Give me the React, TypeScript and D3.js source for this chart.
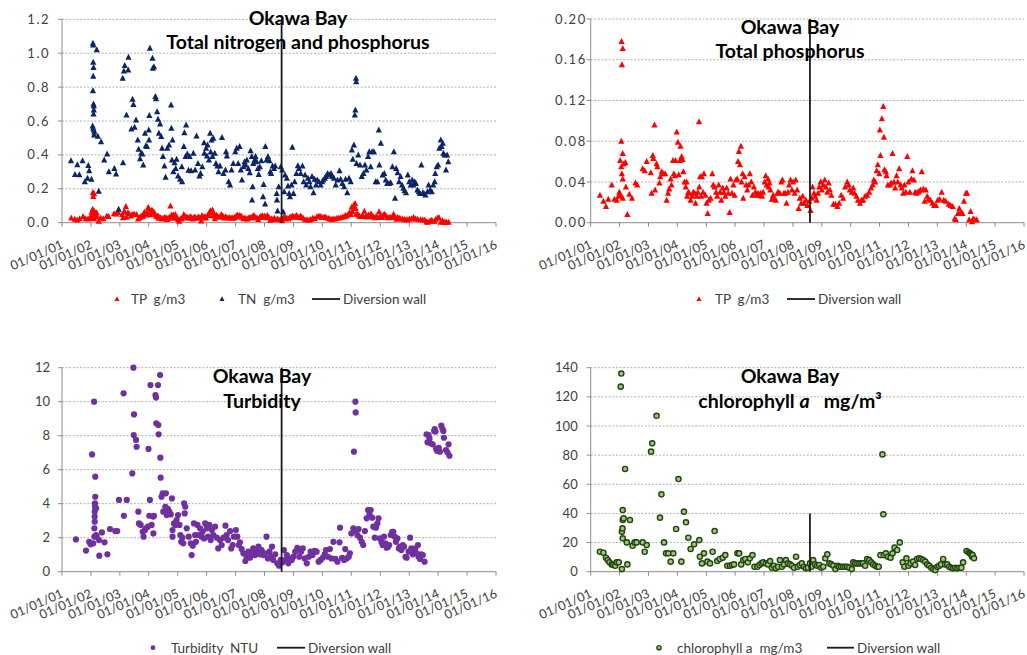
import React from "react";
import * as d3 from "d3";

// sampling dates are kept as decimal years
const tnData: [number, number][] = [
  [2001.31,0.366],[2001.45,0.285],[2001.53,0.342],[2001.6,0.283],[2001.71,0.366],[2001.79,0.242],[2001.88,0.262],[2001.91,0.338],
  [2001.94,0.307],[2002.02,0.256],[2002.07,1.058],[2002.08,1.049],[2002.08,0.946],[2002.09,0.915],[2002.08,0.864],[2002.07,0.779],
  [2002.09,0.7],[2002.1,0.689],[2002.1,0.665],[2002.09,0.641],[2002.06,0.571],[2002.08,0.557],[2002.1,0.547],[2002.12,0.535],
  [2002.11,0.517],[2002.2,1.02],[2002.24,0.51],[2002.27,0.185],[2002.35,0.478],[2002.46,0.37],[2002.56,0.405],[2002.62,0.3],
  [2002.81,0.32],[2002.87,0.287],[2002.96,0.079],[2003.11,0.354],[2003.1,0.852],[2003.14,0.895],[2003.17,0.927],[2003.23,0.635],
  [2003.29,0.901],[2003.3,0.976],[2003.4,0.553],[2003.44,0.728],[2003.47,0.698],[2003.51,0.563],[2003.56,0.606],[2003.62,0.488],
  [2003.65,0.433],[2003.7,0.378],[2003.74,0.409],[2003.78,0.405],[2003.81,0.34],[2003.87,0.527],[2003.9,0.454],[2003.94,0.449],
  [2004.0,0.547],[2004.01,0.488],[2004.02,0.632],[2004.04,1.029],[2004.13,0.97],[2004.14,0.911],[2004.18,0.92],[2004.23,0.744],
  [2004.25,0.732],[2004.29,0.655],[2004.32,0.61],[2004.35,0.527],[2004.39,0.582],[2004.43,0.508],[2004.46,0.439],[2004.49,0.39],
  [2004.54,0.334],[2004.58,0.268],[2004.64,0.439],[2004.7,0.458],[2004.77,0.694],[2004.78,0.557],[2004.82,0.488],[2004.8,0.37],
  [2004.85,0.3],[2004.89,0.354],[2004.93,0.32],[2004.96,0.374],[2005.01,0.275],[2005.08,0.256],[2005.15,0.242],[2005.14,0.33],
  [2005.21,0.449],[2005.23,0.531],[2005.29,0.576],[2005.27,0.39],[2005.33,0.405],[2005.37,0.31],[2005.41,0.39],[2005.46,0.307],
  [2005.54,0.409],[2005.6,0.311],[2005.65,0.511],[2005.7,0.35],[2005.75,0.275],[2005.79,0.291],[2005.85,0.33],[2005.91,0.472],
  [2005.92,0.409],[2005.98,0.439],[2006.01,0.393],[2006.03,0.458],[2006.08,0.37],[2006.12,0.527],[2006.14,0.417],[2006.17,0.488],
  [2006.2,0.39],[2006.23,0.498],[2006.28,0.409],[2006.32,0.35],[2006.37,0.334],[2006.41,0.3],[2006.46,0.334],[2006.53,0.503],
  [2006.58,0.291],[2006.65,0.311],[2006.67,0.419],[2006.7,0.393],[2006.76,0.242],[2006.81,0.222],[2006.86,0.311],[2006.92,0.35],
  [2006.99,0.419],[2007.04,0.439],[2007.09,0.35],[2007.14,0.449],[2007.18,0.311],[2007.22,0.252],[2007.27,0.33],[2007.31,0.36],
  [2007.35,0.34],[2007.39,0.37],[2007.44,0.32],[2007.49,0.295],[2007.52,0.425],[2007.56,0.39],[2007.59,0.212],[2007.61,0.35],
  [2007.57,0.134],[2007.66,0.37],[2007.69,0.39],[2007.73,0.36],[2007.77,0.32],[2007.8,0.285],[2007.84,0.33],[2007.89,0.366],
  [2007.95,0.153],[2007.97,0.226],[2008.02,0.11],[2008.03,0.449],[2008.07,0.37],[2008.12,0.39],[2008.17,0.366],[2008.2,0.3],
  [2008.23,0.291],[2008.28,0.334],[2008.33,0.32],[2008.37,0.334],[2008.42,0.173],[2008.43,0.134],[2008.45,0.069],[2008.49,0.212],
  [2008.56,0.33],[2008.61,0.311],[2008.64,0.065],[2008.68,0.183],[2008.71,0.281],[2008.77,0.262],[2008.81,0.216],[2008.85,0.173],
  [2008.88,0.153],[2008.93,0.222],[2008.96,0.445],[2009.0,0.173],[2009.04,0.242],[2009.1,0.291],[2009.15,0.336],[2009.19,0.32],
  [2009.25,0.291],[2009.31,0.334],[2009.35,0.242],[2009.4,0.281],[2009.44,0.222],[2009.5,0.262],[2009.55,0.242],[2009.59,0.212],
  [2009.64,0.272],[2009.69,0.177],[2009.73,0.256],[2009.78,0.222],[2009.82,0.252],[2009.88,0.242],[2009.94,0.222],[2009.99,0.242],
  [2010.03,0.252],[2010.08,0.262],[2010.12,0.272],[2010.18,0.291],[2010.24,0.281],[2010.3,0.291],[2010.34,0.272],[2010.4,0.262],
  [2010.46,0.222],[2010.52,0.252],[2010.59,0.307],[2010.63,0.256],[2010.69,0.232],[2010.75,0.212],[2010.8,0.256],[2010.86,0.177],
  [2010.92,0.262],[2010.98,0.242],[2011.02,0.429],[2011.05,0.374],[2011.09,0.458],[2011.12,0.635],[2011.14,0.665],[2011.16,0.852],
  [2011.17,0.832],[2011.18,0.35],[2011.24,0.4],[2011.3,0.34],[2011.36,0.272],[2011.42,0.291],[2011.47,0.34],[2011.52,0.311],
  [2011.58,0.39],[2011.62,0.419],[2011.67,0.33],[2011.72,0.419],[2011.78,0.419],[2011.84,0.242],[2011.9,0.242],[2011.95,0.547],
  [2011.97,0.34],[2012.02,0.468],[2012.08,0.281],[2012.14,0.291],[2012.19,0.252],[2012.24,0.232],[2012.3,0.232],[2012.36,0.236],
  [2012.42,0.33],[2012.47,0.419],[2012.51,0.144],[2012.55,0.32],[2012.6,0.295],[2012.65,0.242],[2012.7,0.272],[2012.75,0.222],
  [2012.8,0.203],[2012.84,0.189],[2012.89,0.177],[2012.95,0.281],[2013.0,0.242],[2013.05,0.222],[2013.1,0.252],[2013.14,0.222],
  [2013.19,0.242],[2013.23,0.232],[2013.28,0.193],[2013.33,0.183],[2013.37,0.173],[2013.42,0.34],[2013.47,0.177],[2013.51,0.173],
  [2013.56,0.163],[2013.63,0.183],[2013.67,0.222],[2013.72,0.193],[2013.78,0.183],[2013.83,0.222],[2013.88,0.242],[2013.9,0.291],
  [2013.95,0.33],[2014.0,0.34],[2014.04,0.439],[2014.09,0.488],[2014.12,0.449],[2014.16,0.468],[2014.18,0.409],[2014.22,0.4],
  [2014.27,0.311],[2014.31,0.4],[2014.35,0.36],
];

const tpData: [number, number][] = [
  [2001.32,0.027],[2001.44,0.021],[2001.53,0.016],[2001.61,0.023],[2001.73,0.037],[2001.82,0.023],[2001.9,0.022],[2001.96,0.026],
  [2001.99,0.03],[2002.02,0.061],[2002.04,0.027],[2002.07,0.178],[2002.11,0.171],[2002.08,0.155],[2002.06,0.08],[2002.11,0.068],
  [2002.06,0.055],[2002.08,0.048],[2002.11,0.043],[2002.11,0.024],[2002.15,0.058],[2002.2,0.059],[2002.22,0.035],[2002.27,0.008],
  [2002.34,0.028],[2002.43,0.024],[2002.55,0.039],[2002.61,0.037],[2002.8,0.053],[2002.87,0.051],[2002.94,0.06],[2003.08,0.049],
  [2003.11,0.029],[2003.15,0.066],[2003.17,0.063],[2003.21,0.096],[2003.23,0.032],[2003.28,0.058],[2003.31,0.055],[2003.38,0.039],
  [2003.41,0.045],[2003.46,0.05],[2003.51,0.048],[2003.58,0.048],[2003.63,0.022],[2003.68,0.029],[2003.72,0.033],[2003.77,0.043],
  [2003.8,0.037],[2003.85,0.061],[2003.88,0.048],[2003.92,0.046],[2003.94,0.061],[2003.98,0.089],[2004.02,0.079],[2004.05,0.047],
  [2004.09,0.061],[2004.11,0.075],[2004.15,0.065],[2004.18,0.062],[2004.21,0.05],[2004.25,0.04],[2004.29,0.035],[2004.32,0.04],
  [2004.34,0.026],[2004.38,0.03],[2004.41,0.029],[2004.46,0.022],[2004.51,0.026],[2004.55,0.03],[2004.6,0.029],[2004.63,0.019],
  [2004.67,0.026],[2004.71,0.03],[2004.75,0.099],[2004.76,0.035],[2004.79,0.045],[2004.82,0.026],[2004.85,0.045],[2004.89,0.03],
  [2004.92,0.048],[2004.97,0.027],[2005.01,0.019],[2005.05,0.009],[2005.09,0.022],[2005.15,0.024],[2005.21,0.048],[2005.24,0.037],
  [2005.29,0.035],[2005.34,0.03],[2005.38,0.026],[2005.43,0.037],[2005.48,0.03],[2005.52,0.022],[2005.57,0.034],[2005.61,0.03],
  [2005.66,0.026],[2005.71,0.034],[2005.76,0.029],[2005.81,0.01],[2005.84,0.043],[2005.89,0.029],[2005.94,0.037],[2005.98,0.027],
  [2006.03,0.042],[2006.07,0.043],[2006.1,0.06],[2006.13,0.07],[2006.17,0.057],[2006.2,0.075],[2006.22,0.04],[2006.26,0.048],
  [2006.28,0.024],[2006.33,0.045],[2006.38,0.037],[2006.42,0.032],[2006.47,0.037],[2006.51,0.048],[2006.56,0.04],[2006.6,0.027],
  [2006.65,0.035],[2006.7,0.03],[2006.74,0.027],[2006.79,0.029],[2006.84,0.027],[2006.88,0.029],[2006.93,0.026],[2006.97,0.03],
  [2007.02,0.04],[2007.06,0.046],[2007.09,0.037],[2007.14,0.043],[2007.16,0.035],[2007.19,0.039],[2007.22,0.032],[2007.27,0.023],
  [2007.32,0.027],[2007.36,0.023],[2007.41,0.022],[2007.46,0.029],[2007.5,0.03],[2007.55,0.029],[2007.6,0.04],[2007.64,0.042],
  [2007.69,0.029],[2007.74,0.029],[2007.78,0.019],[2007.83,0.03],[2007.87,0.037],[2007.92,0.042],[2007.97,0.032],[2008.01,0.04],
  [2008.06,0.029],[2008.1,0.042],[2008.15,0.032],[2008.2,0.014],[2008.24,0.024],[2008.29,0.019],[2008.34,0.026],[2008.38,0.019],
  [2008.45,0.022],[2008.5,0.017],[2008.57,0.021],[2008.61,0.012],[2008.65,0.024],[2008.68,0.035],[2008.73,0.029],[2008.77,0.026],
  [2008.82,0.022],[2008.87,0.029],[2008.91,0.035],[2008.96,0.04],[2009.0,0.032],[2009.05,0.037],[2009.1,0.042],[2009.14,0.035],
  [2009.19,0.03],[2009.24,0.039],[2009.28,0.032],[2009.33,0.027],[2009.4,0.018],[2009.47,0.018],[2009.54,0.016],[2009.6,0.019],
  [2009.67,0.027],[2009.74,0.024],[2009.81,0.035],[2009.88,0.04],[2009.93,0.037],[2009.97,0.032],[2010.04,0.03],[2010.09,0.034],
  [2010.13,0.029],[2010.2,0.026],[2010.25,0.022],[2010.32,0.019],[2010.37,0.022],[2010.43,0.022],[2010.5,0.026],[2010.57,0.027],
  [2010.64,0.03],[2010.71,0.034],[2010.76,0.037],[2010.8,0.042],[2010.85,0.04],[2010.9,0.051],[2010.94,0.057],[2010.99,0.048],
  [2011.01,0.091],[2011.03,0.066],[2011.08,0.102],[2011.13,0.114],[2011.15,0.084],[2011.17,0.052],[2011.22,0.05],[2011.24,0.046],
  [2011.29,0.037],[2011.36,0.037],[2011.4,0.039],[2011.45,0.068],[2011.5,0.04],[2011.54,0.034],[2011.59,0.046],[2011.63,0.04],
  [2011.68,0.053],[2011.73,0.037],[2011.77,0.034],[2011.82,0.029],[2011.86,0.037],[2011.91,0.03],[2011.96,0.065],[2012.0,0.04],
  [2012.05,0.03],[2012.1,0.043],[2012.14,0.051],[2012.19,0.042],[2012.23,0.03],[2012.28,0.029],[2012.33,0.03],[2012.37,0.031],
  [2012.42,0.032],[2012.46,0.05],[2012.51,0.033],[2012.56,0.021],[2012.6,0.032],[2012.65,0.026],[2012.69,0.023],[2012.76,0.022],
  [2012.83,0.019],[2012.89,0.017],[2012.95,0.017],[2013.01,0.022],[2013.08,0.023],[2013.15,0.03],[2013.22,0.022],[2013.29,0.021],
  [2013.39,0.018],[2013.46,0.017],[2013.53,0.016],[2013.6,0.004],[2013.64,0.003],[2013.71,0.009],[2013.76,0.014],[2013.8,0.01],
  [2013.87,0.009],[2013.92,0.021],[2013.99,0.029],[2014.03,0.029],[2014.1,0.003],[2014.15,0.011],[2014.2,0.001],[2014.24,0.004],
  [2014.29,0.003],[2014.36,0.003],
];

const turbidityData: [number, number][] = [
  [2001.48,1.9],[2001.83,1.24],[2001.94,1.76],[2001.99,1.61],[2002.04,6.9],[2002.08,1.67],[2002.11,10.0],[2002.12,2.06],
  [2002.12,2.55],[2002.13,2.94],[2002.13,3.24],[2002.13,3.53],[2002.14,3.82],[2002.14,4.02],[2002.15,4.41],[2002.15,5.59],
  [2002.18,3.73],[2002.18,2.16],[2002.2,2.06],[2002.28,1.86],[2002.29,0.94],[2002.38,2.31],[2002.47,1.73],[2002.57,1.02],
  [2002.66,2.51],[2002.84,2.39],[2002.91,2.39],[2002.97,4.22],[2003.13,10.49],[2003.14,3.29],[2003.24,4.22],[2003.43,5.78],
  [2003.47,12.0],[2003.48,8.04],[2003.49,9.25],[2003.56,7.75],[2003.58,7.35],[2003.64,3.53],[2003.66,2.84],[2003.72,2.75],
  [2003.79,2.35],[2003.82,2.06],[2003.87,2.45],[2003.9,2.55],[2003.97,2.65],[2003.99,7.22],[2004.02,3.29],[2004.04,4.22],
  [2004.06,10.98],[2004.1,2.75],[2004.15,3.24],[2004.16,2.25],[2004.18,3.29],[2004.23,10.39],[2004.25,10.24],[2004.26,8.73],
  [2004.32,10.98],[2004.33,8.63],[2004.34,8.08],[2004.39,11.57],[2004.4,6.71],[2004.41,5.53],[2004.44,4.41],[2004.48,4.61],
  [2004.5,3.53],[2004.57,3.82],[2004.59,4.61],[2004.62,3.33],[2004.66,3.69],[2004.71,3.53],[2004.76,3.37],[2004.8,4.31],
  [2004.82,2.45],[2004.82,2.06],[2004.87,2.84],[2004.92,2.75],[2004.96,3.04],[2005.01,3.33],[2005.06,2.75],[2005.09,2.16],
  [2005.12,1.76],[2005.16,2.0],[2005.19,1.67],[2005.22,4.02],[2005.24,3.43],[2005.26,3.82],[2005.31,2.55],[2005.38,2.06],
  [2005.45,1.67],[2005.48,0.98],[2005.52,1.53],[2005.56,2.84],[2005.6,2.16],[2005.63,1.76],[2005.68,2.75],[2005.72,2.16],
  [2005.77,2.55],[2005.82,2.06],[2005.86,2.35],[2005.91,1.96],[2005.95,2.84],[2006.0,2.55],[2006.05,2.06],[2006.09,2.75],
  [2006.14,1.86],[2006.18,2.45],[2006.23,2.16],[2006.29,2.65],[2006.35,2.0],[2006.4,1.37],[2006.46,1.86],[2006.52,1.57],
  [2006.58,2.0],[2006.65,2.71],[2006.69,2.16],[2006.74,1.86],[2006.81,2.39],[2006.85,1.37],[2006.9,1.57],[2006.94,2.06],
  [2007.01,2.45],[2007.06,2.06],[2007.11,1.57],[2007.15,1.73],[2007.21,1.33],[2007.27,1.08],[2007.34,0.63],[2007.38,0.88],
  [2007.44,1.18],[2007.5,0.82],[2007.56,1.08],[2007.61,1.37],[2007.67,0.98],[2007.73,1.22],[2007.79,1.47],[2007.84,1.02],
  [2007.9,1.27],[2007.96,0.98],[2008.02,1.08],[2008.07,2.06],[2008.12,0.78],[2008.17,1.18],[2008.21,0.88],[2008.26,1.47],
  [2008.3,0.69],[2008.37,1.02],[2008.44,0.49],[2008.5,0.35],[2008.56,0.69],[2008.62,0.55],[2008.67,1.27],[2008.72,0.69],
  [2008.77,0.98],[2008.82,0.49],[2008.88,0.78],[2008.94,0.69],[2009.0,0.88],[2009.06,1.18],[2009.13,1.41],[2009.2,0.88],
  [2009.26,1.18],[2009.32,1.37],[2009.39,0.78],[2009.46,0.49],[2009.53,0.88],[2009.59,1.18],[2009.66,0.98],[2009.73,1.22],
  [2009.8,1.18],[2009.87,0.59],[2009.94,0.69],[2010.01,0.82],[2010.08,1.02],[2010.12,1.27],[2010.19,0.88],[2010.26,1.33],
  [2010.31,0.78],[2010.38,1.76],[2010.45,0.75],[2010.52,0.59],[2010.59,1.73],[2010.61,2.59],[2010.68,0.82],[2010.75,0.69],
  [2010.79,1.33],[2010.84,0.78],[2010.91,0.88],[2010.95,1.08],[2011.0,2.25],[2011.07,2.55],[2011.09,7.06],[2011.14,10.0],
  [2011.15,9.37],[2011.16,2.39],[2011.21,2.16],[2011.25,2.51],[2011.3,2.0],[2011.36,1.76],[2011.41,1.57],[2011.47,2.39],
  [2011.53,3.14],[2011.58,3.63],[2011.63,3.37],[2011.67,3.63],[2011.72,3.18],[2011.76,2.65],[2011.81,2.0],[2011.85,2.59],
  [2011.9,2.84],[2011.94,3.14],[2011.99,1.96],[2012.04,1.76],[2012.08,1.57],[2012.13,2.06],[2012.18,1.67],[2012.22,1.41],
  [2012.27,1.47],[2012.31,1.57],[2012.36,2.16],[2012.41,2.35],[2012.45,2.35],[2012.5,2.06],[2012.54,1.76],[2012.59,1.96],
  [2012.64,1.37],[2012.68,1.47],[2012.73,1.27],[2012.78,1.57],[2012.82,1.47],[2012.87,0.88],[2012.91,0.82],[2012.98,1.18],
  [2013.03,2.0],[2013.07,1.37],[2013.12,1.02],[2013.17,1.18],[2013.21,1.37],[2013.26,1.08],[2013.3,1.57],[2013.32,0.88],
  [2013.37,0.75],[2013.42,1.02],[2013.47,0.98],[2013.53,0.59],[2013.6,8.08],[2013.63,7.61],[2013.67,8.04],[2013.7,7.84],
  [2013.74,7.55],[2013.81,7.49],[2013.86,8.27],[2013.88,8.39],[2013.91,8.24],[2013.93,7.22],[2013.97,7.1],[2014.02,7.29],
  [2014.06,7.06],[2014.11,8.59],[2014.15,8.39],[2014.18,8.27],[2014.2,7.88],[2014.27,7.16],[2014.32,7.02],[2014.36,7.49],
  [2014.39,6.82],
];

const chlData: [number, number][] = [
  [2001.32,13.7],[2001.44,13.0],[2001.53,9.6],[2001.59,8.0],[2001.65,6.4],[2001.73,5.0],[2001.78,4.6],[2001.85,4.1],
  [2001.9,6.4],[2001.97,6.4],[2002.04,127],[2002.06,136],[2002.08,27.5],[2002.1,29.7],[2002.11,42.3],[2002.11,35.5],
  [2002.08,1.8],[2002.11,22.9],[2002.14,36.6],[2002.19,70.5],[2002.25,20.1],[2002.27,5.0],[2002.36,35.5],[2002.45,17.8],
  [2002.52,20.1],[2002.59,20.1],[2002.8,20.1],[2002.87,13.7],[2002.94,18.3],[2003.09,82.4],[2003.13,88.1],[2003.28,107],
  [2003.4,37.1],[2003.45,53.1],[2003.54,20.1],[2003.61,12.6],[2003.69,12.6],[2003.77,6.9],[2003.86,12.6],[2003.96,29.3],
  [2004.04,63.6],[2004.14,6.9],[2004.23,41.2],[2004.3,33.9],[2004.38,23.3],[2004.46,15.6],[2004.58,18.8],[2004.76,21.7],
  [2004.78,10.3],[2004.85,5.7],[2004.92,12.6],[2005.04,6.9],[2005.13,5.7],[2005.22,13.7],[2005.29,27.9],[2005.38,7.3],
  [2005.47,8.7],[2005.57,9.6],[2005.66,11.4],[2005.73,4.1],[2005.82,4.1],[2005.89,4.6],[2005.96,5.0],[2006.08,12.6],
  [2006.14,12.6],[2006.21,5.0],[2006.28,8.0],[2006.35,8.7],[2006.44,6.4],[2006.51,9.2],[2006.6,11.4],[2006.67,3.4],
  [2006.77,3.4],[2006.84,4.6],[2006.91,5.7],[2006.97,6.4],[2007.07,5.7],[2007.14,5.0],[2007.21,7.3],[2007.27,2.7],
  [2007.34,4.1],[2007.41,2.3],[2007.49,3.4],[2007.55,8.0],[2007.62,3.4],[2007.69,5.0],[2007.76,8.0],[2007.83,5.7],
  [2007.9,5.0],[2007.97,4.1],[2008.04,2.7],[2008.11,10.3],[2008.17,3.4],[2008.24,4.6],[2008.31,5.7],[2008.38,3.4],
  [2008.45,2.3],[2008.52,2.7],[2008.59,5.7],[2008.64,3.4],[2008.7,8.0],[2008.77,5.0],[2008.84,4.1],[2008.91,4.6],
  [2008.98,2.7],[2009.05,3.4],[2009.12,9.2],[2009.19,11.9],[2009.26,5.7],[2009.33,5.0],[2009.4,4.1],[2009.47,1.8],
  [2009.54,4.1],[2009.6,3.4],[2009.67,3.4],[2009.74,3.4],[2009.81,3.4],[2009.88,3.4],[2009.95,2.7],[2010.04,1.8],
  [2010.09,6.4],[2010.16,5.7],[2010.23,5.7],[2010.3,5.7],[2010.37,5.7],[2010.43,5.7],[2010.5,4.1],[2010.57,8.7],
  [2010.64,8.0],[2010.71,6.4],[2010.78,5.0],[2010.85,4.1],[2010.92,3.4],[2010.97,3.4],[2011.03,11.4],[2011.1,80.5],
  [2011.13,39.4],[2011.15,11.4],[2011.22,12.6],[2011.29,10.3],[2011.38,9.6],[2011.45,12.6],[2011.52,16.5],[2011.61,14.9],
  [2011.7,20.1],[2011.8,6.4],[2011.86,3.4],[2011.93,9.2],[2012.0,4.1],[2012.07,5.7],[2012.16,6.9],[2012.23,4.6],
  [2012.3,8.7],[2012.37,9.2],[2012.44,8.7],[2012.51,8.0],[2012.58,6.9],[2012.65,5.0],[2012.72,4.1],[2012.79,2.7],
  [2012.86,1.8],[2012.93,1.1],[2013.0,3.4],[2013.06,4.1],[2013.13,5.0],[2013.2,8.7],[2013.27,5.0],[2013.34,5.0],
  [2013.41,3.4],[2013.48,2.7],[2013.55,2.3],[2013.62,2.7],[2013.69,2.3],[2013.76,2.7],[2013.83,2.7],[2013.89,6.4],
  [2014.01,14.2],[2014.08,13.3],[2014.13,12.6],[2014.17,11.9],[2014.2,10.3],[2014.22,11.4],[2014.27,9.2],
];

const tickYears = d3.range(2001, 2017);
const wallYear = 2008.59;
const nutrientTicks = [0, 0.2, 0.4, 0.6, 0.8, 1.0, 1.2];
const tpTicks = [0, 0.04, 0.08, 0.12, 0.16, 0.2];
const turbidityTicks = [0, 2, 4, 6, 8, 10, 12];
const chlTicks = [0, 20, 40, 60, 80, 100, 120, 140];

const FONT = "Lato, 'Open Sans', sans-serif";
const NAVY = "#0b2566";
const RED = "#ff0000";
const PURPLE = "#7030a0";
const GREEN_DARK = "#1f470c";
const GREEN_FILL = "#a7c383";
const AXIS = "#8c8c8c";

const toDate = (t: number) => {
  const y = Math.floor(t);
  const a = new Date(y, 0, 1).getTime();
  const b = new Date(y + 1, 0, 1).getTime();
  return new Date(a + (t - y) * (b - a));
};

const triPath = "M0,-3.5L3.1,2.5L-3.1,2.5Z";

type Marker = "tri" | "dot" | "ring";

function Mark({ kind, color, x, y, small }: { kind: Marker; color: string; x: number; y: number; small?: boolean }) {
  if (kind === "tri")
    return <path d={triPath} transform={`translate(${x},${y})${small ? " scale(0.8)" : ""}`} fill={color} />;
  if (kind === "dot") return <circle cx={x} cy={y} r={small ? 2.4 : 3.1} fill={color} />;
  return <circle cx={x} cy={y} r={small ? 2.1 : 2.6} fill={GREEN_FILL} stroke={GREEN_DARK} strokeWidth={1.4} />;
}

type Series = { data: [number, number][]; kind: Marker; color: string };
type LegendItem = { kind: Marker | "line"; color: string; label: string; mx: number; tx: number; mx2?: number };

function Panel(props: {
  left: number; right: number; top: number; bottom: number;
  ticks: number[]; fmt: (v: number) => string; labelGap: number; letter?: number;
  series: Series[]; wallTop: number;
  title: React.ReactNode[]; titleX: number; titleY: number[];
  legend: LegendItem[]; legendY: number;
}) {
  const { left, right, top, bottom, ticks } = props;
  const x = d3.scaleTime().domain([new Date(2001, 0, 1), new Date(2016, 0, 1)]).range([left, right]);
  const y = d3.scaleLinear().domain([0, ticks[ticks.length - 1]]).range([bottom, top]);
  const wx = x(toDate(wallYear));
  const fmtDate = d3.timeFormat("%d/%m/%y");
  return (
    <g fontFamily={FONT}>
      {ticks.filter(t => t > 0).map(t => (
        <line key={"g" + t} x1={left} x2={right} y1={y(t)} y2={y(t)} stroke="#a6a6a6" strokeWidth={0.9} strokeDasharray="2 1.6" />
      ))}
      <line x1={left} x2={left} y1={top} y2={bottom} stroke={AXIS} strokeWidth={1} />
      <line x1={left} x2={right} y1={bottom} y2={bottom} stroke={AXIS} strokeWidth={1} />
      {ticks.map(t => (
        <g key={"y" + t}>
          <line x1={left - 4} x2={left} y1={y(t)} y2={y(t)} stroke={AXIS} />
          <text x={left - props.labelGap} y={y(t)} dy="0.35em" textAnchor="end" fontSize={13} fill="#404040" letterSpacing={props.letter || 0}>
            {props.fmt(t)}
          </text>
        </g>
      ))}
      {tickYears.map(yr => {
        const d = new Date(yr, 0, 1);
        const px = x(d);
        return (
          <g key={"x" + yr}>
            <line x1={px} x2={px} y1={bottom} y2={bottom + 4} stroke={AXIS} />
            <text transform={`translate(${px + 2},${bottom + 25}) rotate(-24)`} textAnchor="end" fontSize={12.8} fill="#404040">
              {fmtDate(d)}
            </text>
          </g>
        );
      })}
      {props.series.map((s, i) => (
        <g key={"s" + i}>
          {s.data.map((p, j) => (
            <Mark key={j} kind={s.kind} color={s.color} x={x(toDate(p[0]))} y={y(p[1])} />
          ))}
        </g>
      ))}
      <line x1={wx} x2={wx} y1={y(props.wallTop)} y2={bottom} stroke="#1a1a1a" strokeWidth={1.8} />
      {props.title.map((t, i) => (
        <text key={"t" + i} x={props.titleX} y={props.titleY[i]} textAnchor="middle" fontSize={19.5} fontWeight={700} fill="#000" style={{ whiteSpace: "pre" }}>
          {t}
        </text>
      ))}
      {props.legend.map((l, i) => (
        <g key={"l" + i}>
          {l.kind === "line" ? (
            <line x1={l.mx} x2={l.mx2} y1={props.legendY} y2={props.legendY} stroke="#1a1a1a" strokeWidth={1.8} />
          ) : (
            <Mark kind={l.kind} color={l.color} x={l.mx} y={props.legendY} small />
          )}
          <text x={l.tx} y={props.legendY} dy="0.36em" fontSize={13.5} fill="#404040" style={{ whiteSpace: "pre" }}>
            {l.label}
          </text>
        </g>
      ))}
    </g>
  );
}

export default function App() {
  return (
    <svg width={1027} height={655} style={{ position: "absolute", left: 0, top: 0, background: "#fff" }}>
      <Panel
        left={62} right={496} top={19.3} bottom={222.7}
        ticks={nutrientTicks} fmt={d3.format(".1f")} labelGap={12} letter={1.5}
        series={[{ data: tpData, kind: "tri", color: RED }, { data: tnData, kind: "tri", color: NAVY }]}
        wallTop={1.2}
        title={["Okawa Bay", "Total nitrogen and phosphorus"]} titleX={298} titleY={[25, 49]}
        legendY={299}
        legend={[
          { kind: "tri", color: RED, label: "TP  g/m3", mx: 117, tx: 131 },
          { kind: "tri", color: NAVY, label: "TN  g/m3", mx: 222, tx: 238 },
          { kind: "line", color: "#000", label: "Diversion wall", mx: 312, mx2: 340, tx: 343 },
        ]}
      />
      <Panel
        left={590.7} right={1024} top={19} bottom={222.7}
        ticks={tpTicks} fmt={d3.format(".2f")} labelGap={4} letter={1.5}
        series={[{ data: tpData, kind: "tri", color: RED }]}
        wallTop={0.2}
        title={["Okawa Bay", "Total phosphorus"]} titleX={790} titleY={[34, 58]}
        legendY={299}
        legend={[
          { kind: "tri", color: RED, label: "TP  g/m3", mx: 699, tx: 715 },
          { kind: "line", color: "#000", label: "Diversion wall", mx: 787, mx2: 815, tx: 818 },
        ]}
      />
      <Panel
        left={62} right={496} top={367.7} bottom={571.7}
        ticks={turbidityTicks} fmt={d3.format("d")} labelGap={12}
        series={[{ data: turbidityData, kind: "dot", color: PURPLE }]}
        wallTop={12}
        title={["Okawa Bay", "Turbidity"]} titleX={262} titleY={[383, 407.7]}
        legendY={647.7}
        legend={[
          { kind: "dot", color: PURPLE, label: "Turbidity  NTU", mx: 153, tx: 171 },
          { kind: "line", color: "#000", label: "Diversion wall", mx: 277, mx2: 305, tx: 308 },
        ]}
      />
      <Panel
        left={590.7} right={1024} top={367.7} bottom={571.7}
        ticks={chlTicks} fmt={d3.format("d")} labelGap={13}
        series={[{ data: chlData, kind: "ring", color: GREEN_DARK }]}
        wallTop={40}
        title={[
          "Okawa Bay",
          <>
            <tspan>chlorophyll </tspan>
            <tspan fontStyle="italic">a</tspan>
            <tspan>{"   mg/m³"}</tspan>
          </>,
        ]}
        titleX={790} titleY={[383, 407.7]}
        legendY={647.7}
        legend={[
          { kind: "ring", color: GREEN_DARK, label: "chlorophyll a  mg/m3", mx: 659, tx: 677 },
          { kind: "line", color: "#000", label: "Diversion wall", mx: 827, mx2: 854, tx: 857 },
        ]}
      />
    </svg>
  );
}
